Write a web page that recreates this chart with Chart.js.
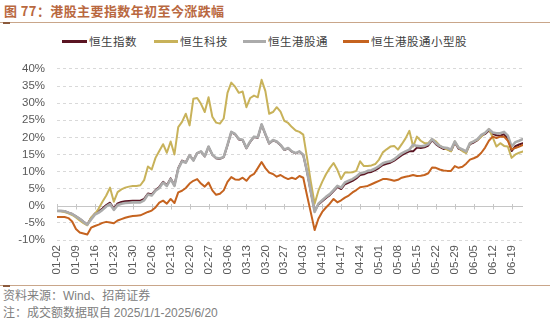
<!DOCTYPE html>
<html>
<head>
<meta charset="utf-8">
<script src="https://cdn.jsdelivr.net/npm/chart.js@4/dist/chart.umd.min.js"></script>
<style>
  html, body { margin: 0; padding: 0; background: #fff; }
  body { width: 550px; height: 322px; position: relative; overflow: hidden;
         font-family: "Noto Sans CJK SC", "Liberation Sans", sans-serif; }
  .title { position: absolute; left: 4px; top: 1px; font-size: 13px; font-weight: 700;
           color: #B9683F; letter-spacing: 0.4px; white-space: nowrap; }
  .rule { position: absolute; left: 0; width: 550px; height: 1px; background: #C9A68A; }
  .rule::before { content: ""; position: absolute; left: 3px; top: 0; width: 7px; height: 2px; background: #8B5A3C; }
  .legend { position: absolute; top: 33px; height: 16px; }
  .lg { position: absolute; top: 0; white-space: nowrap; font-size: 11.5px; color: #404040; line-height: 16px; letter-spacing: 0.5px; }
  .sw { position: absolute; top: 7px; height: 3px; }
  .note { position: absolute; left: 3px; font-size: 12px; color: #808080; white-space: nowrap; line-height: 16px; }
  .note .lat { font-family: "Liberation Sans", Arial, sans-serif; }
  #wrap { position: absolute; left: 0; top: 50px; width: 550px; height: 235px; }
</style>
</head>
<body>
<div class="title">图 77：港股主要指数年初至今涨跌幅</div>
<div class="rule" style="top:22px"></div>
<div class="legend" id="legend"></div>
<div id="wrap"><canvas id="c" width="550" height="235"></canvas></div>
<div class="rule" style="top:285px"></div>
<div class="note" style="top:287px">资料来源：<span class="lat">Wind</span>、招商证券</div>
<div class="note" style="top:304px">注：成交额数据取自 <span class="lat">2025/1/1-2025/6/20</span></div>
<script>
// Weekly date labels on the horizontal axis (one every 5 trading days)
const tickLabels = ['01-02','01-09','01-16','01-23','01-30','02-06','02-13','02-20','02-27',
  '03-06','03-13','03-20','03-27','04-03','04-10','04-17','04-24','05-01','05-08','05-15',
  '05-22','05-29','06-05','06-12','06-19'];

const seriesNames = ['恒生指数', '恒生科技', '恒生港股通', '恒生港股通小型股'];
const seriesColors = ['#5A1422', '#C8B25A', '#ABABAB', '#C5631F'];

// Year-to-date change, %, one value per trading day
const hsi = [
  -1.5,-1.5,-1.6,-2.0,-2.4,-3.1,-3.8,-4.7,-5.5,-3.6,
  -2.3,-1.6,-0.8,0.2,0.9,-0.8,0.7,1.1,1.3,1.4,
  1.5,1.5,1.5,2.0,3.6,3.3,4.6,5.5,7.0,6.0,
  8.0,6.0,11.0,13.2,12.7,14.8,13.3,15.4,15.8,14.4,
  17.2,14.9,13.9,13.7,14.2,17.7,21.5,20.9,19.4,19.2,
  16.8,18.7,20.1,19.9,23.7,20.9,18.2,19.1,18.7,17.7,
  16.3,16.8,15.8,15.3,15.8,14.8,10.0,4.0,-1.5,0.4,
  1.3,2.3,3.1,4.3,5.5,4.9,6.3,6.8,7.3,8.0,
  9.0,9.2,9.7,9.9,10.4,11.1,11.9,12.3,12.6,13.2,
  14.0,14.8,15.4,15.9,15.9,17.0,16.9,17.1,17.6,19.2,
  18.0,17.2,16.6,16.6,16.0,18.5,16.7,16.2,15.6,18.0,
  18.5,19.2,20.4,21.0,22.0,21.0,20.6,20.5,20.9,19.7,
  16.0,17.4,17.9,18.3
];
const hstech = [
  -1.5,-1.6,-1.8,-2.2,-2.7,-3.4,-4.3,-5.1,-5.7,-3.4,
  -2.4,-0.8,1.2,3.0,5.3,1.2,4.0,4.8,5.3,5.6,
  5.8,5.8,6.0,7.5,11.5,10.6,14.0,16.0,18.0,15.5,
  18.8,15.0,23.0,24.5,26.9,23.5,31.3,31.5,29.8,27.4,
  31.7,26.0,24.3,24.0,25.5,33.0,36.0,34.8,33.0,33.4,
  28.8,31.5,32.2,31.7,36.8,33.5,26.9,27.4,28.8,27.5,
  24.8,24.2,23.0,22.0,21.6,20.8,14.0,7.0,0.6,4.4,
  7.0,9.2,11.0,12.5,10.5,7.8,9.7,9.7,9.8,10.2,
  13.0,11.6,11.6,11.8,12.2,13.5,15.6,16.5,17.3,17.5,
  16.4,18.0,19.7,21.9,17.3,20.2,19.0,18.3,18.3,19.5,
  18.8,17.6,16.9,16.4,15.9,18.8,17.0,16.0,15.4,18.3,
  18.8,19.3,20.2,21.3,22.4,20.0,17.3,18.3,17.5,17.3,
  14.0,15.0,15.5,15.9
];
const hsConnect = [
  -1.5,-1.5,-1.6,-2.0,-2.4,-3.1,-3.8,-4.7,-5.5,-4.0,
  -2.6,-2.0,-1.2,-0.2,0.5,-1.2,0.2,0.6,0.8,0.9,
  1.0,1.0,1.0,1.6,3.3,3.0,4.4,5.2,6.8,5.8,
  7.8,5.8,10.8,13.0,12.6,14.8,13.2,15.4,15.9,14.5,
  17.3,15.0,14.0,13.8,14.3,17.8,21.6,21.0,19.5,19.3,
  16.9,18.8,20.2,20.0,23.8,21.0,18.3,19.2,18.8,17.8,
  16.4,16.9,15.9,15.4,15.9,14.9,10.0,4.0,-1.8,0.6,
  1.6,2.6,3.4,4.6,5.8,5.3,6.8,7.3,7.8,8.5,
  9.5,9.7,10.2,10.4,10.9,11.6,12.4,12.8,13.0,13.6,
  14.5,15.3,15.9,16.4,17.8,17.5,17.4,17.5,18.0,19.5,
  18.3,17.5,17.0,16.9,16.4,18.8,17.0,16.5,15.9,18.3,
  18.8,19.5,20.7,21.3,22.4,21.4,21.2,21.2,21.6,20.5,
  17.3,18.6,19.0,19.5
];
const hsConnectSmall = [
  -3.3,-3.3,-3.3,-3.6,-4.6,-6.8,-7.8,-8.1,-8.4,-6.4,
  -5.9,-5.5,-5.0,-4.7,-4.9,-5.1,-4.3,-3.9,-3.5,-3.2,
  -3.0,-2.9,-2.8,-2.3,-1.8,-1.4,-0.5,0.9,1.5,0.6,
  2.0,0.8,3.9,4.4,5.2,6.5,7.3,7.8,6.5,5.6,
  6.8,4.5,3.2,3.5,4.5,7.0,8.4,7.7,7.6,8.2,
  7.3,8.7,9.3,11.0,12.8,11.0,9.7,9.3,8.5,9.0,
  8.3,7.8,8.2,7.8,8.7,8.2,3.0,-2.0,-7.1,-3.8,
  -1.8,-0.5,0.6,2.0,1.0,1.6,2.4,3.0,3.9,4.6,
  5.4,5.6,5.8,6.3,6.8,7.3,7.8,7.8,7.6,7.3,
  7.6,8.2,8.5,8.7,9.0,8.7,8.8,9.0,9.5,11.2,
  11.1,10.6,10.3,10.2,10.2,11.6,11.1,11.4,12.3,13.5,
  13.9,14.4,15.5,17.0,19.0,20.2,19.8,20.2,20.2,19.0,
  16.4,16.9,17.3,17.8
];

const yMin = -10, yMax = 40, yStep = 5;
const seriesValues = [hsi, hstech, hsConnect, hsConnectSmall];
const lineWidths = [2, 2, 2.6, 2];
const drawOrder = [3, 2, 1, 0];

// HTML legend
const legendPos = [[62, 89], [154, 180], [243, 268], [343, 371]];
const legend = document.getElementById('legend');
seriesNames.forEach((name, k) => {
  const sw = document.createElement('div');
  sw.className = 'sw';
  sw.style.left = legendPos[k][0] + 'px';
  sw.style.width = (legendPos[k][1] - legendPos[k][0] - 2) + 'px';
  sw.style.background = seriesColors[k];
  legend.appendChild(sw);
  const t = document.createElement('div');
  t.className = 'lg';
  t.style.left = legendPos[k][1] + 'px';
  t.textContent = name;
  legend.appendChild(t);
});

// Solid zero line with small cross ticks at each weekly label
const zeroAxis = {
  id: 'zeroAxis',
  beforeDatasetsDraw(chart) {
    const { ctx, chartArea, scales } = chart;
    const y0 = Math.round(scales.y.getPixelForValue(0)) + 0.5;
    ctx.save();
    ctx.strokeStyle = '#C6C6C6';
    ctx.lineWidth = 1;
    ctx.beginPath();
    ctx.moveTo(chartArea.left, y0);
    ctx.lineTo(chartArea.right, y0);
    tickLabels.forEach((_, k) => {
      const x = Math.round(scales.x.getPixelForValue(k * 5)) + 0.5;
      ctx.moveTo(x, y0 - 2.5);
      ctx.lineTo(x, y0 + 3);
    });
    ctx.stroke();
    ctx.restore();
  }
};

new Chart(document.getElementById('c'), {
  type: 'line',
  data: {
    datasets: seriesValues.map((vals, k) => ({
      label: seriesNames[k],
      data: vals.map((v, i) => ({ x: i, y: v })),
      borderColor: seriesColors[k],
      backgroundColor: seriesColors[k],
      borderWidth: lineWidths[k],
      pointRadius: 0,
      tension: 0,
      borderJoinStyle: 'round',
      borderCapStyle: 'round',
      order: drawOrder[k]
    }))
  },
  options: {
    responsive: false,
    devicePixelRatio: 1,
    animation: false,
    events: [],
    layout: { padding: { left: 0, right: 27, top: 15.7, bottom: 5 } },
    plugins: { legend: { display: false }, tooltip: { enabled: false } },
    scales: {
      x: {
        type: 'linear',
        min: 0,
        max: hsi.length - 1,
        afterBuildTicks(scale) { scale.ticks = tickLabels.map((_, k) => ({ value: k * 5 })); },
        afterFit(scale) { scale.height = 40; },
        ticks: {
          autoSkip: false,
          minRotation: 90,
          maxRotation: 90,
          padding: 5,
          color: '#595959',
          font: { family: 'Liberation Sans', size: 11.5 },
          callback: (v) => tickLabels[Math.round(v / 5)]
        },
        grid: { display: false, drawTicks: false },
        border: { display: false }
      },
      y: {
        min: yMin,
        max: yMax,
        afterFit(scale) { scale.width = 57; },
        ticks: {
          stepSize: yStep,
          padding: 12,
          color: '#595959',
          font: { family: 'Liberation Sans', size: 11.5 },
          callback: (v) => v + '%'
        },
        grid: {
          drawTicks: false,
          color: (c) => (c.tick && c.tick.value === 0) ? 'rgba(0,0,0,0)' : '#D9D9D9'
        },
        border: { display: false, dash: [3, 3] }
      }
    }
  },
  plugins: [zeroAxis]
});
</script>
</body>
</html>
